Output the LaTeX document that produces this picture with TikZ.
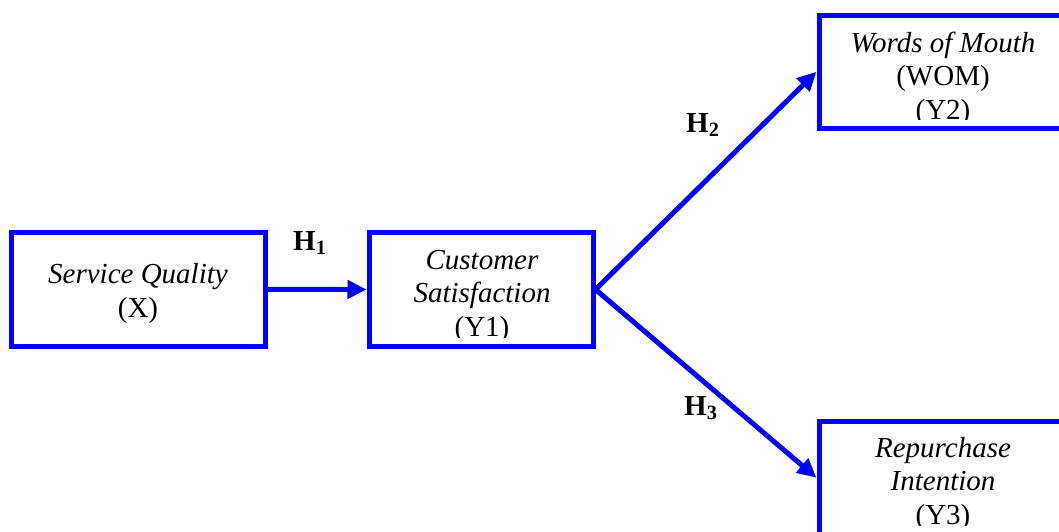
\documentclass[tikz,border=0pt]{standalone}
\usepackage{fontspec}
\setmainfont{Liberation Serif}
\usetikzlibrary{arrows.meta}
\definecolor{modelblue}{RGB}{0,0,255}
\begin{document}
\begin{tikzpicture}[x=1pt,y=-1pt,
  construct/.style={draw=modelblue, line width=5pt, rectangle, inner sep=0pt,
    minimum width=#1, minimum height=113.5pt},
  boxtext/.style={font=\fontsize{29}{33.5}\selectfont, align=center,
    inner sep=0pt, anchor=base},
  hyp/.style={font=\fontsize{29}{34}\selectfont\bfseries, inner sep=0pt,
    anchor=base west},
  link/.style={draw=modelblue, line width=5pt,
    -{Triangle[length=19pt,width=18pt]}}]
\useasboundingbox (0,0) rectangle (1059,531);
\clip (0,0) rectangle (1059,531);

% construct boxes
\node[construct=253.5pt] (sq)  at (138.25,289.25) {};
\node[construct=224pt]   (cs)  at (481,289.5) {};
\node[construct=248pt]   (wom) at (943,71.75) {};
\node[construct=248pt]   (rep) at (943,477.75) {};

% box labels, anchored at the baseline of the last line;
% the lower lines are clipped just inside the frame
\node[boxtext] (sqtext) at (138,317) {\textit{Service Quality}\\(X)};
\begin{scope}
  \clip (371.5,235.5) rectangle (590.5,337);
  \node[boxtext] (cstext) at (482,336) {\textit{Customer}\\\textit{Satisfaction}\\(Y1)};
\end{scope}
\begin{scope}
  \clip (821.5,17.5) rectangle (1065,119);
  \node[boxtext] (womtext) at (943,119) {\textit{Words of Mouth}\\(WOM)\\(Y2)};
\end{scope}
\begin{scope}
  \clip (821.5,423.5) rectangle (1065,525);
  \node[boxtext] (reptext) at (943,524) {\textit{Repurchase}\\\textit{Intention}\\(Y3)};
\end{scope}

% hypothesised paths
\draw[link] (sq.east) -- (cs.west);
\draw[link] (cs.east) -- (wom.west);
\draw[link] (cs.east) -- (rep.west);

% hypothesis labels
\node[hyp] (h1) at (293,250) {H\textsubscript{1}};
\node[hyp] (h2) at (686,132) {H\textsubscript{2}};
\node[hyp] (h3) at (684,415) {H\textsubscript{3}};
\end{tikzpicture}
\end{document}
